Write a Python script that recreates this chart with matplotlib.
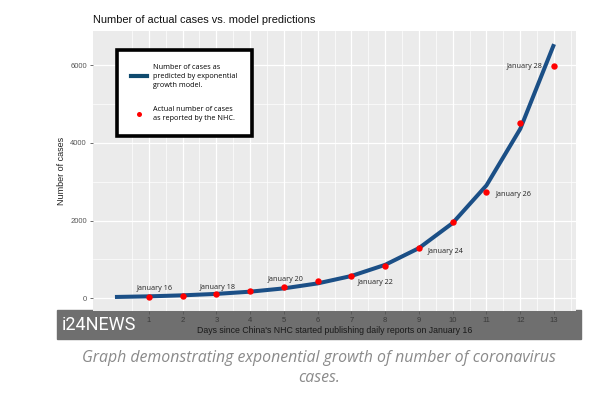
import numpy as np
import matplotlib
matplotlib.use("Agg")
import matplotlib.pyplot as plt
from matplotlib.lines import Line2D
from matplotlib.patches import Rectangle

# model curve (at each day)
model_days = list(range(0, 14))
model_cases = [34, 50, 76, 113, 170, 255, 383, 574, 861, 1291, 1937, 2906, 4359, 6538]

# reported cases
days = list(range(1, 14))
cases = [45, 62, 121, 198, 291, 440, 571, 830, 1287, 1975, 2744, 4515, 5974]

# labelled points: day, text
label_days = [1, 3, 5, 7, 9, 11, 13]
label_text = ["January 16", "January 18", "January 20", "January 22",
              "January 24", "January 26", "January 28"]

x_ticks = list(range(1, 14))
y_ticks = [0, 2000, 4000, 6000]

W, H = 611, 396
fig = plt.figure(figsize=(W / 100, H / 100), dpi=100)
fig.patch.set_facecolor("white")

# grey i24 band behind the bottom of the chart
fig.patches.append(Rectangle((57 / W, 1 - 339 / H), (581 - 57) / W, 29 / H,
                             transform=fig.transFigure, color="#6f6f6f", zorder=-1))

ax = fig.add_axes([93 / W, 1 - 311 / H, (576 - 93) / W, (311 - 31) / H])
ax.set_facecolor("#ebebeb")
for s in ax.spines.values():
    s.set_visible(False)

ax.set_xlim(-0.65, 13.65)
ax.set_ylim(-327, 6877)
ax.set_xticks(x_ticks)
ax.set_xticks(np.arange(0.5, 14, 1.0), minor=True)
ax.set_yticks(y_ticks)
ax.set_yticks([1000, 3000, 5000], minor=True)
ax.grid(True, which="major", color="white", lw=0.9)
ax.grid(True, which="minor", color="white", lw=0.5)
ax.set_axisbelow(True)
ax.tick_params(axis="both", which="major", labelsize=5.5, length=2.5, width=0.6,
               color="#555555", pad=2)
ax.tick_params(axis="both", which="minor", length=0)
ax.tick_params(axis="x", labelcolor="#3a3a3a")
ax.tick_params(axis="y", labelcolor="#555555")
ax.set_xticklabels([str(v) for v in x_ticks], family="Liberation Sans")
ax.set_yticklabels([str(v) for v in y_ticks], family="Liberation Sans")

ax.set_xlabel("Days since China's NHC started publishing daily reports on January 16",
              fontsize=6.3, family="Liberation Sans", color="#1a1a1a", labelpad=1)
ax.set_ylabel("Number of cases", fontsize=6.5, family="Liberation Sans",
              color="#222222", labelpad=3)
ax.set_title("Number of actual cases vs. model predictions", loc="left",
             fontsize=7.9, family="Liberation Sans", color="#111111", pad=6, x=0.0)

blue = "#1b4f86"
ax.plot(model_days, model_cases, color=blue, lw=2.9, solid_capstyle="butt", zorder=2)
ax.plot(days, cases, "o", color="#ff0000", ms=4.6, mec="none", zorder=3)

# point labels
lab = dict(fontsize=5.2, family="Open Sans", color="#222222")
offsets = {1: (0.19, 215, "center"), 3: (0.05, 160, "center"), 5: (0.04, 200, "center"),
           7: (0.17, -160, "left"), 9: (0.27, -80, "left"), 11: (0.26, -70, "left"),
           13: (-0.35, 0, "right")}
for d, t in zip(label_days, label_text):
    dx, dy, ha = offsets[d]
    ax.text(d + dx, cases[d - 1] + dy, t, ha=ha, va="center", **lab)

handles = [Line2D([], [], color="#0f4a6e", lw=3),
           Line2D([], [], ls="none", marker="o", color="#ff0000", ms=3.6, mec="none")]
leg = ax.legend(handles,
                ["Number of cases as\npredicted by exponential\ngrowth model.",
                 "Actual number of cases\nas reported by the NHC."],
                loc="upper left", bbox_to_anchor=((117 - 93) / 483, (311 - 50) / 280),
                prop={"family": "Open Sans", "size": 5.25}, fancybox=False,
                edgecolor="black", framealpha=1, borderpad=1.9, labelspacing=2.4,
                handlelength=2.2, handletextpad=0.9, borderaxespad=0)
leg.get_frame().set_linewidth(2.6)
for t in leg.get_texts():
    t.set_linespacing(1.4)

fig.text(62 / W, 1 - 325 / H, "i24NEWS", color="white", fontsize=13,
         family="Roboto", va="center", ha="left")

fig.text(319 / W, 1 - 358 / H, "Graph demonstrating exponential growth of number of coronavirus",
         ha="center", va="center", fontsize=11.4, style="italic", family="Open Sans",
         color="#8a8a8a")
fig.text(319 / W, 1 - 378 / H, "cases.", ha="center", va="center", fontsize=11.4,
         style="italic", family="Open Sans", color="#8a8a8a")

fig.savefig("out.png", dpi=100)
